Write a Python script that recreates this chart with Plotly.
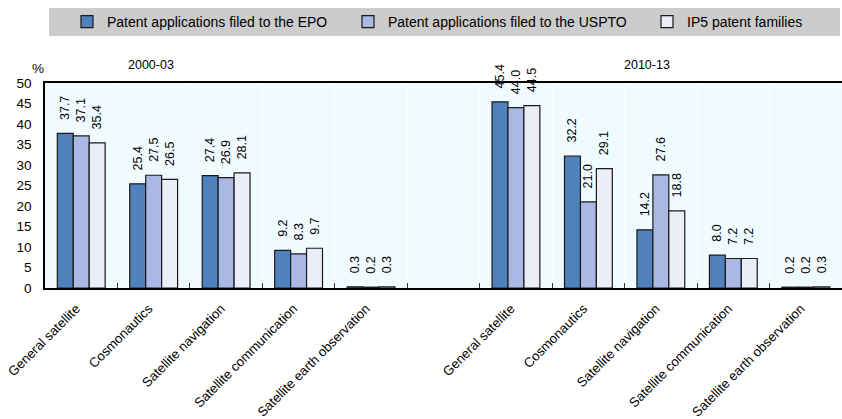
import plotly.graph_objects as go

periods = ["2000-03", "2010-13"]
categories = ["General satellite", "Cosmonautics", "Satellite navigation",
              "Satellite communication", "Satellite earth observation"]
series_names = ["Patent applications filed to the EPO",
                "Patent applications filed to the USPTO",
                "IP5 patent families"]
epo = [[37.7, 25.4, 27.4, 9.2, 0.3], [45.4, 32.2, 14.2, 8.0, 0.2]]
uspto = [[37.1, 27.5, 26.9, 8.3, 0.2], [44.0, 21.0, 27.6, 7.2, 0.2]]
ip5 = [[35.4, 26.5, 28.1, 9.7, 0.3], [44.5, 29.1, 18.8, 7.2, 0.3]]
y_ticks = [0, 5, 10, 15, 20, 25, 30, 35, 40, 45, 50]

colors = ["#4F81BD", "#A9B9E3", "#EBEEF8"]
FONT = "Liberation Sans, Arial, sans-serif"
PAD = "\u00a0\u00a0\u00a0"  # gap between bar end and rotated value label

# slot positions: each period occupies len(categories) slots, followed by one empty slot
step = len(categories) + 1
xpos, xlab = [], []
for g, p in enumerate(periods):
    for i, c in enumerate(categories):
        xpos.append(g * step + i)
        xlab.append(c)

legend_ids = ["legend", "legend2", "legend3"]
legend_text_x = [107, 388, 687]  # pixel where each legend entry's text begins

fig = go.Figure()
for name, data, col, lid in zip(series_names, [epo, uspto, ip5], colors, legend_ids):
    vals = [v for grp in data for v in grp]
    fig.add_trace(go.Bar(
        x=xpos, y=vals, name=name, legend=lid,
        marker=dict(color=col, line=dict(color="#1a1a1a", width=1.2)),
        text=[f"{PAD}{v:.1f}" for v in vals], textposition="outside",
        textangle=-90, constraintext="none", cliponaxis=False,
        textfont=dict(family=FONT, size=12.5, color="#000000"),
    ))

n_slots = len(periods) * step - 1
legends = {}
for lid, tx in zip(legend_ids, legend_text_x):
    legends[lid] = dict(orientation="h", x=(tx - 40 - 45) / 797, xanchor="left",
                        y=(288 - 22) / 205, yanchor="middle",
                        bgcolor="rgba(0,0,0,0)",
                        font=dict(family=FONT, size=14, color="#000000"))

fig.update_layout(
    width=842, height=419,
    margin=dict(l=45, r=0, t=83, b=131),
    plot_bgcolor="#F0FBFF", paper_bgcolor="#FFFFFF",
    barmode="group", bargap=0.34, bargroupgap=0,
    font=dict(family=FONT, size=13.5, color="#000000"),
    showlegend=True,
    xaxis=dict(range=[-0.5, n_slots - 0.5], tickmode="array", tickvals=xpos, ticktext=xlab,
               tickangle=-45, ticks="", showgrid=False, zeroline=False,
               ticklabeloverflow="allow", ticklabelshift=-5, ticklabelstandoff=6,
               showline=True, linecolor="#000000", linewidth=1.5, mirror=True,
               tickfont=dict(family=FONT, size=13.2),
               minor=dict(tickmode="array", tickvals=[k - 0.5 for k in range(1, n_slots)],
                          ticks="inside", ticklen=5, tickcolor="#333333", tickwidth=1,
                          showgrid=True, gridcolor="#FFFFFF", gridwidth=1)),
    yaxis=dict(range=[0, 50], tickmode="array", tickvals=y_ticks, ticks="",
               showgrid=False, zeroline=False, showline=True, linecolor="#000000",
               linewidth=1.5, ticklabelstandoff=9, tickfont=dict(family=FONT, size=13.5)),
    shapes=[dict(type="rect", xref="paper", yref="paper",
                 x0=(49 - 45) / 797, x1=(840 - 45) / 797,
                 y0=(288 - 36) / 205, y1=(288 - 8) / 205,
                 fillcolor="#CCCCCC", line=dict(width=0), layer="below")],
    annotations=[
        dict(text="2000-03", xref="paper", yref="paper", x=(151 - 45) / 797,
             y=(288 - 65) / 205, showarrow=False, xanchor="center", yanchor="middle",
             font=dict(family=FONT, size=12.5)),
        dict(text="2010-13", xref="paper", yref="paper", x=(647 - 45) / 797,
             y=(288 - 65) / 205, showarrow=False, xanchor="center", yanchor="middle",
             font=dict(family=FONT, size=12.5)),
        dict(text="%", xref="paper", yref="paper", x=(38 - 45) / 797,
             y=(288 - 69) / 205, showarrow=False, xanchor="center", yanchor="middle",
             font=dict(family=FONT, size=13.5)),
    ],
)
fig.update_layout(**legends)

fig.write_html("out.html", config={"displayModeBar": False},
               post_script="document.body.style.margin='0';")
